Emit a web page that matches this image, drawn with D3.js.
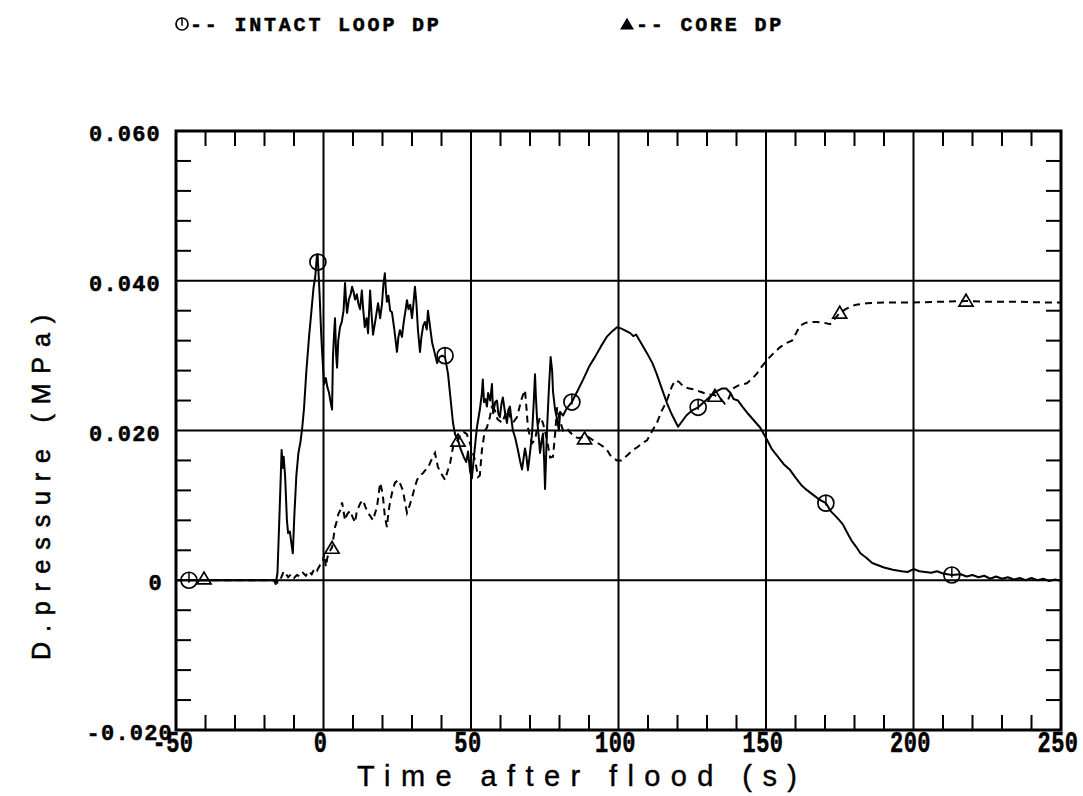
<!DOCTYPE html>
<html><head><meta charset="utf-8">
<script src="https://cdn.jsdelivr.net/npm/d3@7"></script>
<style>body{margin:0;background:#fff;} svg{display:block;}</style>
</head><body>
<svg id="chart" width="1083" height="796"></svg>
<script>
// ---- data ----
const xTicks = [-50, 0, 50, 100, 150, 200, 250];
const xTickLabels = ["-50", "0", "50", "100", "150", "200", "250"];
const yTicks = [-0.02, 0, 0.02, 0.04, 0.06];
const yTickLabels = ["-0.020", "0", "0.020", "0.040", "0.060"];
const seriesNames = ["INTACT LOOP DP", "CORE DP"];

const intactT = [-50,-40,-30,-20,-16.8,-16.2,-15.6,-14.6,-14.2,-13.8,-13.5,-13.0,-12.4,-12.0,-11.4,-10.9,-10.4,-9.9,-9.2,-8.5,-7.8,-7.2,-6.6,-5.8,-4.9,-4.2,-3.4,-2.8,-2.2,-1.8,-1.3,-0.8,-0.4,0.2,0.8,1.3,1.9,2.5,2.9,3.2,3.6,3.9,4.3,4.6,5.0,5.6,6.2,6.8,7.3,7.7,8.0,8.6,9.2,9.7,10.2,10.7,11.3,11.8,12.4,13.0,13.5,14.0,14.6,15.1,15.8,16.3,16.8,17.5,18.5,19.2,19.8,20.3,20.8,21.2,21.5,22.0,22.6,23.2,24.0,24.9,25.4,25.9,26.6,27.2,27.8,28.3,28.8,29.4,30.0,30.5,31.0,31.5,32.0,32.7,33.2,33.8,34.4,35.0,35.4,35.9,36.4,36.8,37.6,38.5,39.3,40.2,41.2,42.2,43.0,43.9,44.6,45.5,46.5,47.5,48.4,49.0,49.7,50.3,51.0,52.0,53.0,53.7,54.0,54.4,54.9,55.4,55.8,56.5,57.1,57.5,58.2,58.8,59.3,59.8,60.3,60.8,61.5,62.2,62.7,63.2,63.8,64.2,65.0,65.9,66.6,67.3,67.8,68.3,68.8,69.3,70.0,70.7,71.3,71.7,72.0,72.4,73.0,73.4,73.9,74.4,74.8,75.1,75.5,75.8,76.4,77.0,77.5,77.8,78.5,79.2,79.8,80.2,81.2,82.5,84.2,86,88,90,92,94,96,98,99.5,101,102.5,104,105,106,107.5,109.7,111.5,113,114.5,116.4,118,120.2,121.5,123,125,127,129,131,133,135,136.5,138,139,140.5,142,144,146,148,150.3,152,154,156,158,160,162,164,166,168,170.3,172,174,176,178,179,180.5,182,184,186,188,190,193,196,198,200,202,204,206,208,210,213,216,218,220,222,224,226,228,230,232,234,236,238,240,242,244,246,248,250];
const intactP = [0,0,0,0,0,-0.0005,0.001,0.0125,0.0174,0.0150,0.0165,0.0138,0.0080,0.0063,0.0065,0.0050,0.0036,0.0085,0.0140,0.0170,0.0185,0.0204,0.0230,0.0280,0.0325,0.0355,0.0390,0.0405,0.0435,0.0420,0.0380,0.0330,0.0300,0.0262,0.0270,0.0258,0.0250,0.0236,0.0228,0.0298,0.0330,0.0350,0.0300,0.0284,0.0320,0.0338,0.0345,0.0360,0.0397,0.0370,0.0357,0.0375,0.0382,0.0392,0.0385,0.0375,0.0382,0.0370,0.0362,0.0387,0.0360,0.0338,0.0350,0.0330,0.0387,0.0355,0.0328,0.0345,0.0370,0.0350,0.0368,0.0395,0.0410,0.0385,0.0372,0.0380,0.0360,0.0358,0.0335,0.0305,0.0325,0.0334,0.0325,0.0345,0.0360,0.0374,0.0362,0.0368,0.0350,0.0370,0.0392,0.0370,0.0335,0.0305,0.0325,0.0340,0.0345,0.0335,0.0360,0.0345,0.0330,0.0318,0.0305,0.0290,0.0298,0.0300,0.0298,0.0276,0.0245,0.0210,0.0195,0.0188,0.0175,0.0165,0.0158,0.0172,0.0145,0.0136,0.0165,0.0204,0.0228,0.0250,0.0268,0.0238,0.0242,0.0232,0.0250,0.0240,0.0262,0.0223,0.0238,0.0240,0.0222,0.0218,0.0235,0.0244,0.0225,0.0210,0.0228,0.0232,0.0212,0.0200,0.0190,0.0174,0.0160,0.0148,0.0162,0.0176,0.0165,0.0147,0.0170,0.0196,0.0240,0.0275,0.0245,0.0215,0.0190,0.0170,0.0185,0.0196,0.0160,0.0122,0.0170,0.0204,0.0255,0.0298,0.0280,0.0252,0.0228,0.0215,0.0200,0.0225,0.0220,0.0230,0.0238,0.0252,0.0268,0.0285,0.0298,0.0312,0.0325,0.0333,0.0338,0.0336,0.0333,0.0330,0.0326,0.0328,0.0318,0.0303,0.0290,0.0275,0.0258,0.0237,0.0222,0.0205,0.0212,0.0220,0.0227,0.0231,0.0238,0.0245,0.0252,0.0256,0.0256,0.0250,0.0242,0.0240,0.0232,0.0222,0.0213,0.0204,0.0188,0.0175,0.0165,0.0155,0.0148,0.0137,0.0127,0.0120,0.0114,0.0108,0.0103,0.0092,0.0084,0.0075,0.0060,0.0053,0.0045,0.0036,0.0030,0.0023,0.0020,0.0017,0.0014,0.0012,0.0011,0.0015,0.0012,0.0011,0.0010,0.0012,0.0009,0.0007,0.0008,0.0005,0.0007,0.0004,0.0006,0.0002,0.0005,0.0002,0.0004,0.0001,0.0003,0.0000,0.0003,0.0000,0.0002,-0.0001,0.0001,-0.0001];

const coreT = [-50,-40,-30,-20,-16,-15.5,-14.5,-13.5,-12.8,-12,-11,-10,-9,-8,-7,-6,-5,-4,-3,-2.2,-1.2,-0.5,0.3,0.8,1.3,2.0,2.9,3.5,3.9,4.6,5.0,5.6,6.3,6.8,7.3,8.0,9.0,9.8,10.7,11.2,11.7,12.5,13.4,14.2,15.1,16.0,16.8,17.5,18.1,18.7,19.2,19.8,20.2,20.8,21.5,22.0,22.5,23.3,24.2,25.3,26.1,26.9,27.6,28.3,29.2,30.0,30.8,31.7,32.7,33.7,34.5,35.4,36.5,37.8,38.3,38.8,40.0,41.2,42.0,42.9,43.9,44.8,45.6,46.5,47.5,48.6,49.5,50.3,51.4,52.4,53.0,53.7,54.7,55.4,56.4,57.0,58.1,59.0,60.0,60.5,61.5,62.5,63.5,64.5,65.6,66.5,67.3,68.3,68.8,69.3,70.0,70.7,71.7,72.5,73.4,74.4,75.8,76.8,77.8,78.5,79.2,80.0,81.2,82.5,83.5,85.3,86.5,88.0,89.5,91.4,93.5,95,96.1,97.5,99.5,101,103,104.9,106.5,108,109.7,111.5,113,114.5,116.4,118,119.2,120.5,122.2,124,125.6,127.5,129,130.7,132.7,134.5,136,137,138.8,140.5,143.5,145,146.9,148.5,150.3,152.5,154.7,156.5,158.8,160.2,161.5,163.5,165.5,167.3,169.5,171.7,173.5,175,177,179,180.5,184.2,190,200,210,218,225,235,245,250];
const coreP = [0,0,0,0,0,-0.0003,0.0002,0.0012,0.0009,0.0004,0.0008,0.0003,0.0007,0.0005,0.0010,0.0006,0.0012,0.0008,0.0016,0.0013,0.0020,0.0022,0.0035,0.0018,0.0030,0.0038,0.0044,0.0060,0.0071,0.0080,0.0088,0.0093,0.0104,0.0092,0.0080,0.0088,0.0093,0.0085,0.0077,0.0090,0.0096,0.0103,0.0107,0.0098,0.0090,0.0085,0.0080,0.0090,0.0097,0.0115,0.0130,0.0120,0.0110,0.0085,0.0071,0.0090,0.0103,0.0118,0.0130,0.0134,0.0128,0.0120,0.0105,0.0090,0.0100,0.0110,0.0122,0.0134,0.0140,0.0143,0.0147,0.0150,0.0160,0.0170,0.0160,0.0151,0.0142,0.0134,0.0145,0.0156,0.0178,0.0185,0.0187,0.0196,0.0198,0.0195,0.0185,0.0174,0.0160,0.0138,0.0140,0.0174,0.0200,0.0204,0.0218,0.0231,0.0227,0.0215,0.0212,0.0210,0.0220,0.0228,0.0215,0.0212,0.0218,0.0232,0.0244,0.0254,0.0230,0.0204,0.0192,0.0183,0.0187,0.0205,0.0218,0.0210,0.0187,0.0164,0.0165,0.0195,0.0231,0.0215,0.0200,0.0203,0.0198,0.0191,0.0190,0.0191,0.0192,0.0187,0.0182,0.0178,0.0174,0.0165,0.0160,0.0160,0.0167,0.0174,0.0178,0.0183,0.0187,0.0200,0.0210,0.0225,0.0240,0.0258,0.0267,0.0265,0.0258,0.0256,0.0255,0.0252,0.0250,0.0248,0.0247,0.0243,0.0236,0.0240,0.0256,0.0260,0.0263,0.0268,0.0276,0.0285,0.0294,0.0303,0.0311,0.0316,0.0320,0.0330,0.0340,0.0344,0.0345,0.0345,0.0344,0.0342,0.0350,0.0357,0.0362,0.0366,0.0368,0.0370,0.0371,0.0371,0.0372,0.0373,0.0372,0.0372,0.0371,0.0371];

const circleT = [-45.6, -1.9, 41.2, 84.2, 127.0, 170.3, 213.0];
const circleP = [0, 0.0425, 0.0300, 0.0238, 0.0231, 0.0103, 0.0007];
const triT = [-40.5, 2.9, 45.6, 88.5, 132.7, 175.0, 217.8];
const triP = [0.0003, 0.0044, 0.0187, 0.0190, 0.0247, 0.0358, 0.0374];

// ---- drawing ----
const svg = d3.select("#chart");
const x = d3.scaleLinear().domain([-50, 250]).range([176, 1061]);
const y = d3.scaleLinear().domain([-0.02, 0.06]).range([730, 131]);
const ink = "#000";

// gridlines
const g = svg.append("g");
g.selectAll(".vg").data(xTicks.filter(v => v > -50 && v < 250)).join("line")
  .attr("x1", d => x(d)).attr("x2", d => x(d)).attr("y1", y(-0.02)).attr("y2", y(0.06))
  .attr("stroke", ink).attr("stroke-width", 2);
g.selectAll(".hg").data(yTicks.filter(v => v > -0.02 && v < 0.06)).join("line")
  .attr("y1", d => y(d)).attr("y2", d => y(d)).attr("x1", x(-50)).attr("x2", x(250))
  .attr("stroke", ink).attr("stroke-width", 2);

// minor ticks
const xMinor = d3.range(-40, 250, 10).filter(v => v % 50 !== 0);
const yMinor = d3.range(-16, 60, 4).filter(v => v % 20 !== 0).map(v => v / 1000);
const TL = 15;
xMinor.forEach(v => {
  g.append("line").attr("x1", x(v)).attr("x2", x(v)).attr("y1", y(-0.02)).attr("y2", y(-0.02) - TL).attr("stroke", ink).attr("stroke-width", 2);
  g.append("line").attr("x1", x(v)).attr("x2", x(v)).attr("y1", y(0.06)).attr("y2", y(0.06) + TL).attr("stroke", ink).attr("stroke-width", 2);
});
yMinor.forEach(v => {
  g.append("line").attr("y1", y(v)).attr("y2", y(v)).attr("x1", x(-50)).attr("x2", x(-50) + TL).attr("stroke", ink).attr("stroke-width", 2);
  g.append("line").attr("y1", y(v)).attr("y2", y(v)).attr("x1", x(250)).attr("x2", x(250) - TL).attr("stroke", ink).attr("stroke-width", 2);
});

// frame
g.append("rect").attr("x", x(-50)).attr("y", y(0.06)).attr("width", x(250) - x(-50)).attr("height", y(-0.02) - y(0.06))
  .attr("fill", "none").attr("stroke", ink).attr("stroke-width", 3);

// lines
const line = d3.line().x(d => x(d[0])).y(d => y(d[1]));
svg.append("path").datum(intactT.map((t, i) => [t, intactP[i]])).attr("d", line)
  .attr("fill", "none").attr("stroke", ink).attr("stroke-width", 2).attr("stroke-linejoin", "round");
svg.append("path").datum(coreT.map((t, i) => [t, coreP[i]])).attr("d", line)
  .attr("fill", "none").attr("stroke", ink).attr("stroke-width", 2).attr("stroke-dasharray", "7,5");

// markers
function circleMarker(sel, cx, cy, r) {
  sel.append("circle").attr("cx", cx).attr("cy", cy).attr("r", r).attr("fill", "none").attr("stroke", ink).attr("stroke-width", 1.7);
  sel.append("line").attr("x1", cx).attr("x2", cx).attr("y1", cy - r).attr("y2", cy + r * 0.3).attr("stroke", ink).attr("stroke-width", 1.5);
}
function triMarker(sel, cx, cy, s, fill) {
  const h = s * 0.85;
  sel.append("path").attr("d", `M${cx - s / 2},${cy + h / 2}L${cx},${cy - h / 2}L${cx + s / 2},${cy + h / 2}Z`)
    .attr("fill", fill).attr("stroke", ink).attr("stroke-width", 1.7);
}
const mk = svg.append("g");
circleT.forEach((t, i) => circleMarker(mk, x(t), y(circleP[i]), 8));
triT.forEach((t, i) => triMarker(mk, x(t), y(triP[i]), 14, "none"));

// tick labels
const tickFont = "'Liberation Mono', 'DejaVu Sans Mono', monospace";
yTicks.forEach((v, i) => {
  svg.append("text").attr("x", 161 + (v < 0 ? 12 : 0) + (v === 0 ? 2 : 0)).attr("y", y(v) + 10)
    .attr("text-anchor", "end").attr("font-family", tickFont).attr("font-weight", "bold")
    .attr("font-size", 22).attr("letter-spacing", 1.2).attr("fill", ink)
    .attr("stroke", ink).attr("stroke-width", 0.5).text(yTickLabels[i]);
});
xTicks.forEach((v, i) => {
  svg.append("text").attr("transform", `translate(${x(v) - 3},752) scale(1,1.3)`)
    .attr("text-anchor", "middle").attr("font-family", tickFont).attr("font-weight", "bold")
    .attr("font-size", 22).attr("letter-spacing", 0.5).attr("fill", ink)
    .attr("stroke", ink).attr("stroke-width", 0.4).text(xTickLabels[i]);
});

// axis titles
svg.append("text").attr("x", 357).attr("y", 786).attr("font-family", "'Liberation Sans', Arial, sans-serif")
  .attr("font-size", 29).attr("textLength", 440).attr("lengthAdjust", "spacing").attr("fill", ink)
  .attr("stroke", ink).attr("stroke-width", 0.4).text("Time after flood (s)");
svg.append("text").attr("transform", "translate(50,660) rotate(-90)").attr("font-family", "'Liberation Sans', Arial, sans-serif")
  .attr("font-size", 25).attr("textLength", 345).attr("lengthAdjust", "spacing").attr("fill", ink)
  .attr("stroke", ink).attr("stroke-width", 0.6).text("D.pressure (MPa)");

// legend
const legFont = tickFont;
circleMarker(svg, 182, 24, 6);
svg.append("text").attr("x", 190).attr("y", 31).attr("font-family", legFont).attr("font-weight", "bold")
  .attr("font-size", 20).attr("letter-spacing", 2.8).attr("fill", ink)
  .attr("stroke", ink).attr("stroke-width", 0.5).text("-- " + seriesNames[0]);
triMarker(svg, 627, 24, 11, ink);
svg.append("text").attr("x", 636).attr("y", 31).attr("font-family", legFont).attr("font-weight", "bold")
  .attr("font-size", 20).attr("letter-spacing", 2.8).attr("fill", ink)
  .attr("stroke", ink).attr("stroke-width", 0.5).text("-- " + seriesNames[1]);
</script>
</body></html>
